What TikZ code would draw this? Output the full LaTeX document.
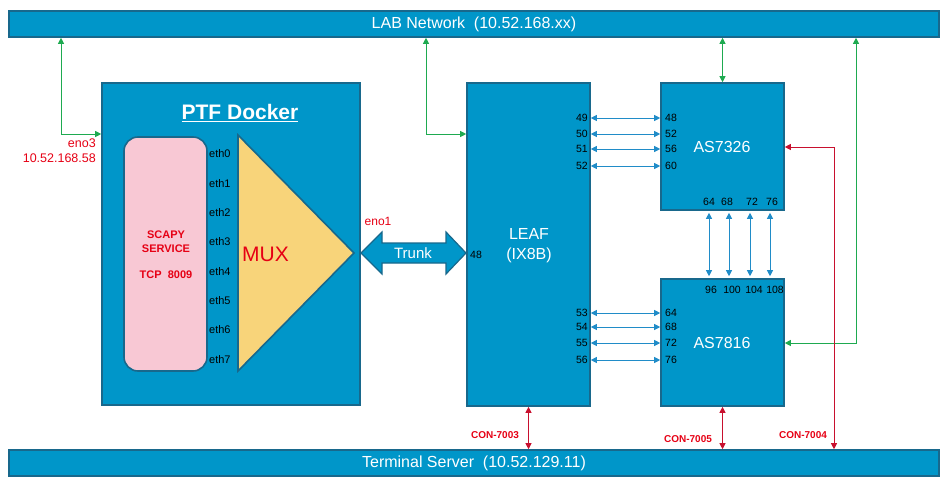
\documentclass[tikz,border=0pt]{standalone}
\usepackage{fontspec}
\setmainfont{Liberation Sans}
\usetikzlibrary{arrows.meta,calc}
\definecolor{boxfill}{RGB}{0,150,201}
\definecolor{boxline}{RGB}{24,104,140}
\definecolor{pinkfill}{RGB}{248,200,212}
\definecolor{muxfill}{RGB}{248,212,122}
\definecolor{portc}{RGB}{32,140,200}
\definecolor{grnc}{RGB}{30,170,80}
\definecolor{redc}{RGB}{200,16,46}
\definecolor{redt}{RGB}{230,0,20}
\tikzset{
  box/.style={draw=boxline, line width=1.6pt, fill=boxfill, inner sep=0pt, text=white},
  fsz/.style={font=\fontsize{#1}{#1}\selectfont},
  portlbl/.style={font=\fontsize{10.5}{12}\selectfont, inner sep=0pt, text=black},
  ethlbl/.style={font=\fontsize{11}{12}\selectfont, inner sep=1pt, text=black, anchor=west},
  parr/.style={draw=portc, line width=0.8pt, {Triangle[length=6pt,width=6pt]}-{Triangle[length=6pt,width=6pt]}},
  garr/.style={draw=grnc, line width=0.8pt, {Triangle[length=6pt,width=6pt]}-{Triangle[length=6pt,width=6pt]}},
  rarr/.style={draw=redc, line width=0.8pt, {Triangle[length=6pt,width=6pt]}-{Triangle[length=6pt,width=6pt]}},
  conlbl/.style={font=\bfseries\fontsize{10}{12}\selectfont, text=redt, inner sep=0pt},
}
\begin{document}
\begin{tikzpicture}[x=1pt,y=-1pt]
\useasboundingbox (0,0) rectangle (952,498);
% bars
\node[box, minimum width=930pt, minimum height=26pt, fsz=16] (lab) at (474,24) {LAB Network~~(10.52.168.xx)};
\node[box, minimum width=930pt, minimum height=26pt, fsz=16] (term) at (474,463) {Terminal Server~~(10.52.129.11)};
% PTF docker
\node[box, minimum width=258pt, minimum height=322pt] (ptf) at (231,244) {};
\node[text=white, font=\bfseries\fontsize{21}{24}\selectfont, inner sep=0pt] (ptft) at (240,113) {\underline{PTF Docker}};
\node[draw=boxline, line width=1.6pt, fill=pinkfill, rounded corners=14pt, minimum width=83pt, minimum height=234pt, inner sep=0pt] (scapy) at (165.5,254) {};
\node[text=redt, font=\bfseries\fontsize{11}{13}\selectfont, align=center, inner sep=0pt] (scapyt) at (166,255) {SCAPY\\[1pt]SERVICE\\[13pt]TCP~~8009};
% MUX triangle
\coordinate (m1) at (238,135);
\coordinate (m2) at (354,253);
\coordinate (m3) at (238,371);
\draw[draw=boxline, line width=1.6pt, fill=muxfill, line join=miter] (m1) -- (m2) -- (m3) -- cycle;
\node[text=redt, fsz=21, inner sep=0pt, anchor=west] (mux) at (242,254) {MUX};
\foreach \i in {0,...,7} {
  \node[ethlbl] (eth\i) at (208,{154+29.3*\i}) {eth\i};
}
% eno labels
\node[text=redt, fsz=12.5, inner sep=0pt, anchor=east] (eno3) at (96,143) {eno3};
\node[text=redt, fsz=12.5, inner sep=0pt, anchor=east] (eno3ip) at (96,158) {10.52.168.58};
\node[text=redt, fsz=12, inner sep=0pt] (eno1) at (378,221) {eno1};
% Trunk
\filldraw[draw=boxline, line width=1.2pt, fill=boxfill, line join=miter]
  (361,253) -- (382,232) -- (382,243) -- (446,243) -- (446,232) -- (466,253)
  -- (446,274) -- (446,263) -- (382,263) -- (382,274) -- cycle;
\node[text=white, fsz=15, inner sep=0pt] (trunk) at (413,253) {Trunk};
% LEAF
\node[box, minimum width=123pt, minimum height=323pt] (leaf) at (528.5,244.5) {};
\node[text=white, fsz=16, align=center, inner sep=0pt] (leaft) at (529,246) {LEAF\\[4pt](IX8B)};
\node[portlbl, anchor=west] (l48) at (470,255) {48};
% AS7326 / AS7816
\node[box, minimum width=123pt, minimum height=127pt] (as73) at (722.5,146.5) {};
\node[text=white, fsz=16, inner sep=0pt] (as73t) at (722,147) {AS7326};
\node[box, minimum width=123pt, minimum height=127pt] (as78) at (722.5,342.5) {};
\node[text=white, fsz=16, inner sep=0pt] (as78t) at (722,343) {AS7816};
% LEAF <-> AS7326 ports
\foreach \a/\b/\y in {49/48/118, 50/52/134, 51/56/149, 52/60/166} {
  \node[portlbl, anchor=east] (pl\a) at (588,\y) {\a};
  \node[portlbl, anchor=west] (pa\b) at (665,\y) {\b};
  \draw[parr] (leaf.east |- pl\a.east) -- (as73.west |- pa\b.west);
}
\foreach \a/\b/\y in {53/64/313, 54/68/327, 55/72/343, 56/76/360} {
  \node[portlbl, anchor=east] (ql\a) at (588,\y) {\a};
  \node[portlbl, anchor=west] (qa\b) at (665,\y) {\b};
  \draw[parr] (leaf.east |- ql\a.east) -- (as78.west |- qa\b.west);
}
% AS7326 <-> AS7816 vertical
\foreach \a/\b/\xa/\xb/\xv in {64/96/709/711/709, 68/100/727/732/729, 72/104/752/754/750, 76/108/772/775/770} {
  \node[portlbl] (ta\a) at (\xa,202) {\a};
  \node[portlbl] (tb\b) at (\xb,290) {\b};
  \coordinate (v\a) at (\xv,245);
  \draw[parr] ([yshift=-2pt]v\a |- as73.south) -- ([yshift=2pt]v\a |- as78.north);
}
% green links
\coordinate (g1) at (61,134);
\draw[garr] (g1 |- lab.south) -- (g1) -- (g1 -| ptf.west);
\coordinate (g2) at (426,134);
\draw[garr] (g2 |- lab.south) -- (g2) -- (g2 -| leaf.west);
\draw[garr] (lab.south -| as73.north) -- (as73.north);
\coordinate (g4) at (856,343);
\draw[garr] (g4 |- lab.south) -- (g4) -- (g4 -| as78.east);
% red links
\coordinate (r1) at (834,147);
\draw[rarr] (r1 -| as73.east) -- (r1) -- (r1 |- term.north);
\draw[rarr] (leaf.south) -- (leaf.south |- term.north);
\draw[rarr] (as78.south) -- (as78.south |- term.north);
\node[conlbl] (c7003) at (495,435) {CON-7003};
\node[conlbl] (c7005) at (688,439) {CON-7005};
\node[conlbl] (c7004) at (803,435) {CON-7004};
\end{tikzpicture}
\end{document}
